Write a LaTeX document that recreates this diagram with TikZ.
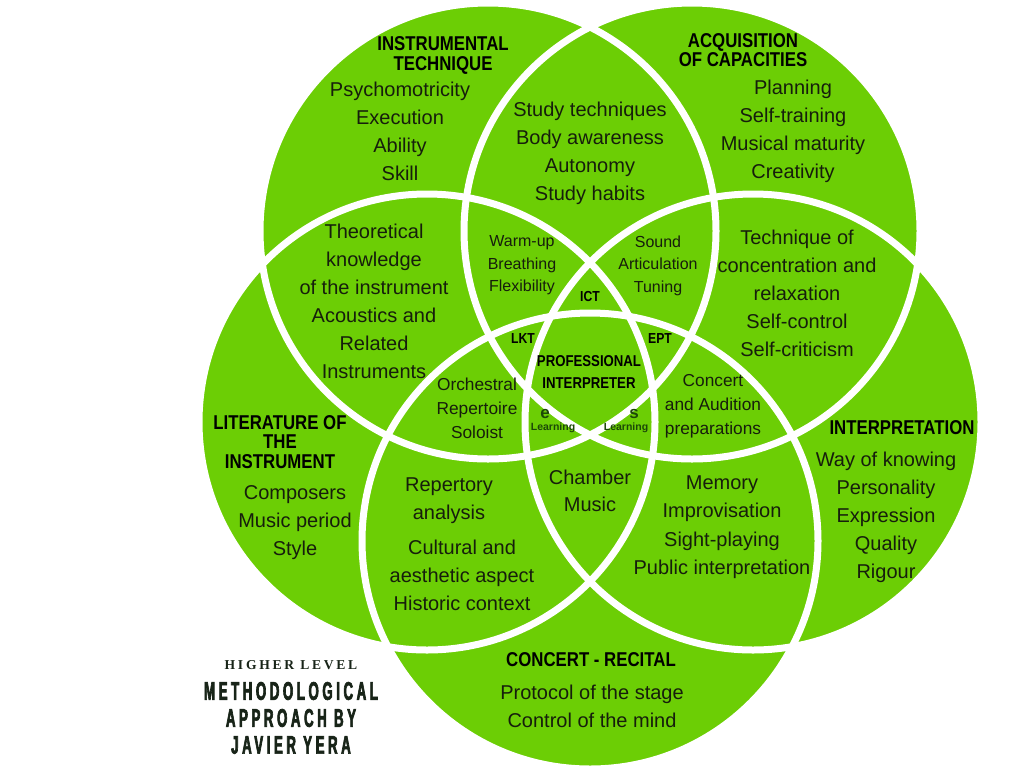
\documentclass[tikz,border=0pt]{standalone}
\usepackage{fontspec}
\setmainfont{Liberation Sans}
\newfontfamily\headfont[FakeStretch=0.84]{Liberation Sans}
\newfontfamily\titlefont[FakeStretch=0.52,LetterSpace=14,FakeBold=2.5]{Liberation Sans}
\newfontfamily\serifspaced[LetterSpace=20]{Liberation Serif}
\definecolor{vgreen}{RGB}{108,206,5}
\definecolor{txt}{RGB}{22,30,12}
\definecolor{dgreen}{RGB}{28,72,8}
\definecolor{ttl}{RGB}{24,36,24}
\tikzset{
  body/.style={font=\fontsize{20}{28}\selectfont, align=center, text=txt, inner sep=0pt},
  mid/.style={font=\fontsize{17.3}{24}\selectfont, align=center, text=txt, inner sep=0pt},
  small/.style={font=\fontsize{16}{22.5}\selectfont, align=center, text=txt, inner sep=0pt},
  head/.style={font=\headfont\bfseries\fontsize{20}{19.5}\selectfont, align=center, text=black, inner sep=0pt},
  core/.style={font=\headfont\bfseries\fontsize{15.7}{22}\selectfont, align=center, text=black, inner sep=0pt},
  tag/.style={font=\headfont\bfseries\fontsize{14.5}{16}\selectfont, text=black, inner sep=0pt},
  letter/.style={font=\bfseries\fontsize{17}{17}\selectfont, text=dgreen, inner sep=0pt},
  learn/.style={font=\bfseries\fontsize{10.5}{12}\selectfont, text=dgreen, inner sep=0pt},
  ring/.style={draw=white, line width=7pt},
  disc/.style={fill=vgreen},
  titlebig/.style={font=\titlefont\bfseries\fontsize{25.5}{27}\selectfont, text=ttl, inner sep=0pt},
  titlesmall/.style={font=\serifspaced\bfseries\fontsize{13.6}{15}\selectfont, text=ttl, inner sep=0pt},
}
\begin{document}
\begin{tikzpicture}[x=1pt,y=-1pt]
\useasboundingbox (0,0) rectangle (1024,769);
\fill[white] (0,0) rectangle (1024,769);
% circle centres (regular pentagon around (590,370))
\coordinate (cA) at (488,231);
\coordinate (cB) at (692,231);
\coordinate (cC) at (427,422);
\coordinate (cD) at (590,541);
\coordinate (cE) at (753,422);
\foreach \c in {cA,cB,cC,cD,cE} \path[disc] (\c) circle (228pt);
\foreach \c in {cA,cB,cC,cD,cE} \path[ring] (\c) circle (228pt);

% Instrumental technique
\node[head] (hA) at (443,55.5) {INSTRUMENTAL\\TECHNIQUE};
\node[body] (tA) at (400,131) {Psychomotricity\\Execution\\Ability\\Skill};
% A and B
\node[body] (tAB) at (590,153) {Study techniques\\Body awareness\\Autonomy\\Study habits};
% Acquisition of capacities
\node[head] (hB) at (743,50) {ACQUISITION\\OF CAPACITIES};
\node[body] (tB) at (793,131) {Planning\\Self-training\\Musical maturity\\Creativity};
% B and E
\node[body] (tBE) at (797,293) {Technique of\\concentration and\\relaxation\\Self-control\\Self-criticism};
% A and C
\node[body] (tAC) at (374,301.5) {Theoretical\\knowledge\\of the instrument\\Acoustics and\\Related\\Instruments};
% Literature
\node[head] (hC) at (280,442) {LITERATURE OF\\THE\\INSTRUMENT};
\node[body] (tC) at (295,523) {Composers\\Music period\\Style};
% C and D
\node[body] (tCD1) at (449,501) {Repertory\\analysis};
\node[body] (tCD2) at (462,575) {Cultural and\\aesthetic aspect\\Historic context};
% centre bottom
\node[body, font=\fontsize{20}{27}\selectfont] (tCh) at (590,490.5) {Chamber\\Music};
% D and E
\node[body, font=\fontsize{20}{28.5}\selectfont] (tDE) at (722,527) {Memory\\Improvisation\\Sight-playing\\Public interpretation};
% Interpretation
\node[head] (hE) at (902,428) {INTERPRETATION};
\node[body] (tE) at (886,517) {Way of knowing\\Personality\\Expression\\Quality\\Rigour};
% Concert - recital
\node[head] (hD) at (591,660) {CONCERT - RECITAL};
\node[body] (tD) at (592,706) {Protocol of the stage\\Control of the mind};

% inner regions
\node[small] (tW) at (522,265.5) {Warm-up\\Breathing\\Flexibility};
\node[small] (tS) at (658,265.5) {Sound\\Articulation\\Tuning};
\node[mid] (tO) at (477,408) {Orchestral\\Repertoire\\Soloist};
\node[mid] (tCo) at (713,406) {Concert\\and Audition\\preparations};
\node[tag] (ict) at (590,297) {ICT};
\node[tag] (lkt) at (523,339) {LKT};
\node[tag] (ept) at (660,339) {EPT};
\node[core] (pro) at (589,372) {PROFESSIONAL\\INTERPRETER};
\node[letter] (le) at (545,414) {e};
\node[learn] (le2) at (553,428) {Learning};
\node[letter] (ls) at (634,414) {s};
\node[learn] (ls2) at (626,428) {Learning};

% title
\node[titlesmall] (t1) at (291,665) {HIGHER LEVEL};
\node[titlebig] (t2) at (291,691) {METHODOLOGICAL};
\node[titlebig] (t3) at (291,718) {APPROACH BY};
\node[titlebig] (t4) at (291,745) {JAVIER YERA};
\end{tikzpicture}
\end{document}
